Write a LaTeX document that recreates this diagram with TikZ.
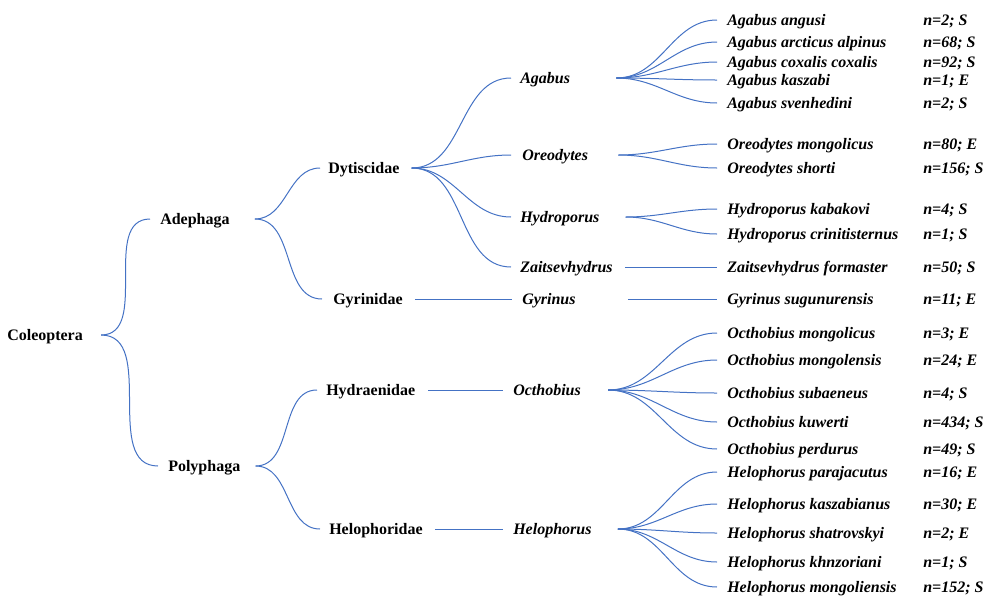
\documentclass[tikz,border=0pt]{standalone}
\usepackage{fontspec}
\setmainfont{Liberation Serif}
\definecolor{brc}{HTML}{4472C4}
\begin{document}
\begin{tikzpicture}[x=0.75pt,y=-0.75pt,
  lbl/.style={anchor=west,inner sep=0pt,text height=8pt,text depth=0pt,
    font=\fontsize{12}{14}\selectfont\bfseries},
  sp/.style={lbl,font=\fontsize{12}{14}\selectfont\bfseries\itshape},
  link/.style={draw=brc,line width=0.75pt},
  curve/.style={link,out=0,in=180}]
\useasboundingbox (0,0) rectangle (993,604);
% order, suborders
\node[lbl] (col) at (7,335) {Coleoptera};
\node[lbl] (ade) at (160,219) {Adephaga};
\node[lbl] (pol) at (168,466) {Polyphaga};
% families
\node[lbl] (dyt) at (328,168) {Dytiscidae};
\node[lbl] (gyr) at (333,299) {Gyrinidae};
\node[lbl] (hyd) at (326,390) {Hydraenidae};
\node[lbl] (hel) at (329,529) {Helophoridae};
% genera
\node[sp] (ag) at (520,78) {Agabus};
\node[sp] (or) at (522,155) {Oreodytes};
\node[sp] (hp) at (520,217) {Hydroporus};
\node[sp] (za) at (520,267) {Zaitsevhydrus};
\node[sp] (gy) at (522,299) {Gyrinus};
\node[sp] (oc) at (513,390) {Octhobius};
\node[sp] (he) at (513,529) {Helophorus};
% species and counts
\foreach \id/\yy/\name/\cnt in {
  a1/20/Agabus angusi/{n=2; S},
  a2/42/Agabus arcticus alpinus/{n=68; S},
  a3/62/Agabus coxalis coxalis/{n=92; S},
  a4/80/Agabus kaszabi/{n=1; E},
  a5/103/Agabus svenhedini/{n=2; S},
  o1/144/Oreodytes mongolicus/{n=80; E},
  o2/168/Oreodytes shorti/{n=156; S},
  h1/209/Hydroporus kabakovi/{n=4; S},
  h2/234/Hydroporus crinitisternus/{n=1; S},
  z1/267/Zaitsevhydrus formaster/{n=50; S},
  g1/299/Gyrinus sugunurensis/{n=11; E},
  c1/333/Octhobius mongolicus/{n=3; E},
  c2/360/Octhobius mongolensis/{n=24; E},
  c3/393/Octhobius subaeneus/{n=4; S},
  c4/422/Octhobius kuwerti/{n=434; S},
  c5/449/Octhobius perdurus/{n=49; S},
  e1/472/Helophorus parajacutus/{n=16; E},
  e2/504/Helophorus kaszabianus/{n=30; E},
  e3/533/Helophorus shatrovskyi/{n=2; E},
  e4/562/Helophorus khnzoriani/{n=1; S},
  e5/587/Helophorus mongoliensis/{n=152; S}}{
  \node[sp] (\id) at (727,\yy) {\name};
  \node[sp] (\id n) at (923,\yy) {\cnt};
}
% order -> suborders
\draw[link] ([xshift=13.5pt]col.east) to[curve] ([xshift=-7.5pt]ade.west);
\draw[link] ([xshift=13.5pt]col.east) to[curve] ([xshift=-7.5pt]pol.west);
% suborders -> families
\draw[link] ([xshift=18.75pt]ade.east) to[curve] ([xshift=-6pt]dyt.west);
\draw[link] ([xshift=18.75pt]ade.east) to[curve] ([xshift=-8.25pt]gyr.west);
\draw[link] ([xshift=11.25pt]pol.east) to[curve] ([xshift=-6.75pt]hyd.west);
\draw[link] ([xshift=11.25pt]pol.east) to[curve] ([xshift=-6.75pt]hel.west);
% families -> genera
\foreach \g/\s in {ag/6.75, or/8.25, hp/6.75, za/6.75}
  \draw[link] ([xshift=9pt]dyt.east) to[curve] ([xshift=-\s pt]\g.west);
\draw[link] ([xshift=9pt]gyr.east) -- ([xshift=-7.5pt]gy.west);
\draw[link] ([xshift=9.75pt]hyd.east) -- ([xshift=-7.5pt]oc.west);
\draw[link] ([xshift=9pt]hel.east) -- ([xshift=-7.5pt]he.west);
% genera -> species
\foreach \s in {a1,a2,a3,a4,a5}
  \draw[link] ([xshift=34.5pt]ag.east) to[curve] ([xshift=-7.5pt]\s.west);
\foreach \s in {o1,o2}
  \draw[link] ([xshift=22.5pt]or.east) to[curve] ([xshift=-7.5pt]\s.west);
\foreach \s in {h1,h2}
  \draw[link] ([xshift=19.5pt]hp.east) to[curve] ([xshift=-7.5pt]\s.west);
\draw[link] ([xshift=9pt]za.east) -- ([xshift=-7.5pt]z1.west);
\draw[link] ([xshift=39pt]gy.east) -- ([xshift=-7.5pt]g1.west);
\foreach \s in {c1,c2,c3,c4,c5}
  \draw[link] ([xshift=20.25pt]oc.east) to[curve] ([xshift=-7.5pt]\s.west);
\foreach \s in {e1,e2,e3,e4,e5}
  \draw[link] ([xshift=19.5pt]he.east) to[curve] ([xshift=-7.5pt]\s.west);
\end{tikzpicture}
\end{document}
